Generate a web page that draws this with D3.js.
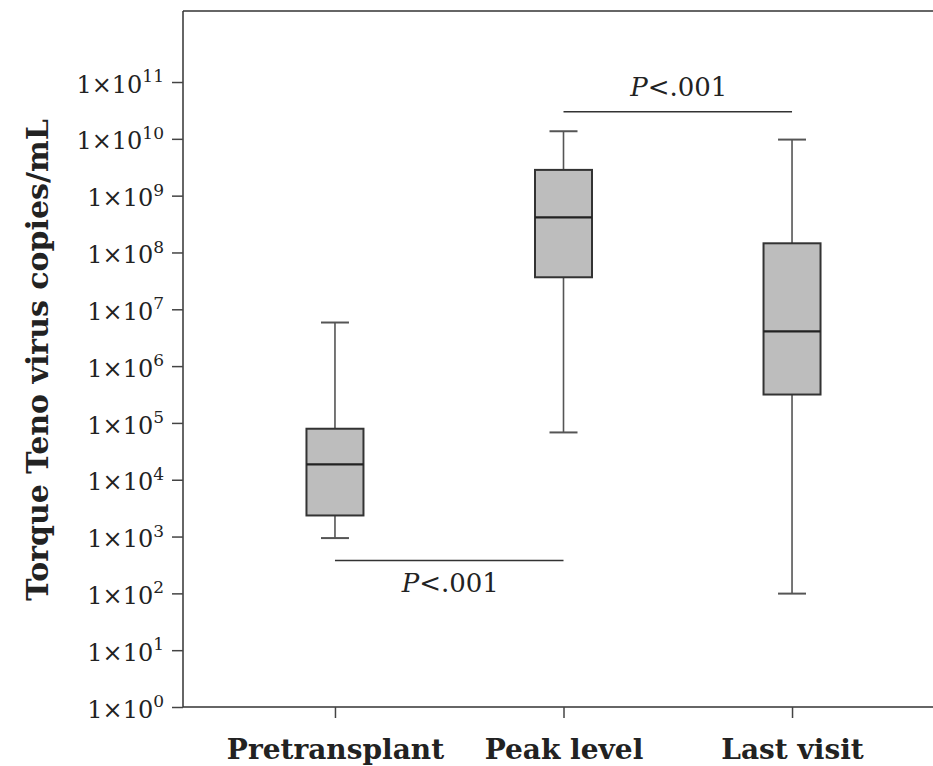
<!DOCTYPE html>
<html>
<head>
<meta charset="utf-8">
<script src="https://cdn.jsdelivr.net/npm/d3@7"></script>
<style>
  html, body { margin: 0; padding: 0; background: #fff; }
  svg { display: block; }
</style>
</head>
<body>
<svg id="chart" width="933" height="766"></svg>
<script>
// ---- data ----
const categories = ["Pretransplant", "Peak level", "Last visit"];
const whiskerLow  = [940, 6.8e4, 99];
const q1          = [2.35e3, 3.66e7, 3.16e5];
const median      = [1.86e4, 4.16e8, 4.1e6];
const q3          = [7.9e4, 2.84e9, 1.45e8];
const whiskerHigh = [5.85e6, 1.36e10, 9.7e9];
const tickExponents = [0, 1, 2, 3, 4, 5, 6, 7, 8, 9, 10, 11];
const yTitle = "Torque Teno virus copies/mL";
const comparisons = [
  { from: "Peak level", to: "Last visit", level: 3e10, label: "<.001", above: true },
  { from: "Pretransplant", to: "Peak level", level: 380, label: "<.001", above: false }
];

// ---- layout ----
const svg = d3.select("#chart");
const plotLeft = 183, plotTop = 11, plotBottom = 707, plotRight = 944;
const ink = "#222";
const serif = "'DejaVu Serif', serif";

const x = d3.scalePoint().domain(categories).range([plotLeft, plotRight]).padding(0.665);
const y = d3.scaleLog().domain([1, Math.pow(10, 12.25)]).range([plotBottom, plotTop]);

// frame: top line
svg.append("line")
  .attr("x1", plotLeft).attr("x2", 933).attr("y1", plotTop).attr("y2", plotTop)
  .attr("stroke", "#333").attr("stroke-width", 1.5);

// y axis
const yAxis = d3.axisLeft(y)
  .tickValues(tickExponents.map(e => Math.pow(10, e)))
  .tickSize(11).tickSizeOuter(0).tickPadding(8)
  .tickFormat(() => "");
const gy = svg.append("g").attr("transform", `translate(${plotLeft},0)`).call(yAxis);
gy.select(".domain").attr("stroke", "#333").attr("stroke-width", 1.5)
  .attr("d", `M0,${plotTop}V${plotBottom}`);
gy.selectAll(".tick line").attr("stroke", "#444").attr("stroke-width", 1.5);
gy.selectAll(".tick text").each(function(d, i) {
  const t = d3.select(this);
  t.text(null)
    .attr("font-family", serif).attr("font-size", 24).attr("fill", ink)
    .attr("dy", "0.42em").attr("x", -19);
  t.append("tspan").text("1\u00d710");
  t.append("tspan").text(tickExponents[i])
    .attr("font-size", 17).attr("dy", "-0.62em");
});

// x axis
const xAxis = d3.axisBottom(x).tickSize(11).tickSizeOuter(0).tickPadding(16);
const gx = svg.append("g").attr("transform", `translate(0,${plotBottom})`).call(xAxis);
gx.select(".domain").attr("stroke", "#333").attr("stroke-width", 1.5)
  .attr("d", `M${plotLeft},0H933`);
gx.selectAll(".tick line").attr("stroke", "#444").attr("stroke-width", 1.5);
gx.selectAll(".tick text")
  .attr("font-family", serif).attr("font-size", 28).attr("font-weight", "bold")
  .attr("fill", ink).attr("dy", "0.9em");

// y title
svg.append("text")
  .attr("transform", `translate(48,${(120 + 600) / 2}) rotate(-90)`)
  .attr("text-anchor", "middle")
  .attr("font-family", serif).attr("font-size", 30).attr("font-weight", "bold")
  .attr("fill", ink)
  .text(yTitle);

// boxes
const boxW = 57, capW = 28;
const data = categories.map((c, i) => ({
  c, lo: whiskerLow[i], q1: q1[i], med: median[i], q3: q3[i], hi: whiskerHigh[i]
}));
const g = svg.append("g");
data.forEach(d => {
  const cx = x(d.c);
  const wc = "#555";
  g.append("line").attr("x1", cx).attr("x2", cx).attr("y1", y(d.hi)).attr("y2", y(d.q3))
    .attr("stroke", wc).attr("stroke-width", 1.6);
  g.append("line").attr("x1", cx).attr("x2", cx).attr("y1", y(d.q1)).attr("y2", y(d.lo))
    .attr("stroke", wc).attr("stroke-width", 1.6);
  g.append("line").attr("x1", cx - capW / 2).attr("x2", cx + capW / 2).attr("y1", y(d.hi)).attr("y2", y(d.hi))
    .attr("stroke", wc).attr("stroke-width", 2);
  g.append("line").attr("x1", cx - capW / 2).attr("x2", cx + capW / 2).attr("y1", y(d.lo)).attr("y2", y(d.lo))
    .attr("stroke", wc).attr("stroke-width", 2);
  g.append("rect").attr("x", cx - boxW / 2).attr("width", boxW)
    .attr("y", y(d.q3)).attr("height", y(d.q1) - y(d.q3))
    .attr("fill", "#bdbdbd").attr("stroke", "#333").attr("stroke-width", 2);
  g.append("line").attr("x1", cx - boxW / 2).attr("x2", cx + boxW / 2)
    .attr("y1", y(d.med)).attr("y2", y(d.med))
    .attr("stroke", "#222").attr("stroke-width", 2.2);
});

// significance annotations
comparisons.forEach(cmp => {
  const x1 = x(cmp.from), x2 = x(cmp.to), yy = y(cmp.level);
  svg.append("line").attr("x1", x1).attr("x2", x2).attr("y1", yy).attr("y2", yy)
    .attr("stroke", "#333").attr("stroke-width", 1.5);
  const t = svg.append("text")
    .attr("x", (x1 + x2) / 2 + 1)
    .attr("y", cmp.above ? yy - 16 : yy + 32)
    .attr("text-anchor", "middle")
    .attr("font-family", serif).attr("font-size", 26).attr("fill", ink);
  t.append("tspan").attr("font-style", "italic").text("P");
  t.append("tspan").text(cmp.label);
});
</script>
</body>
</html>
